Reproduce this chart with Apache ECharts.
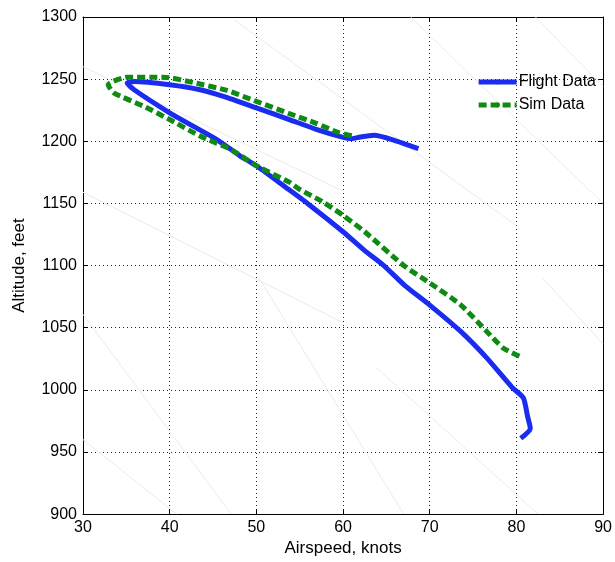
<!DOCTYPE html>
<html>
<head>
<meta charset="utf-8">
<script src="https://cdn.jsdelivr.net/npm/echarts@6/dist/echarts.min.js"></script>
<style>
html, body { margin: 0; padding: 0; background: #fff; }
#chart { width: 615px; height: 562px; }
</style>
</head>
<body>
<div id="chart"></div>
<script>
// flight data trace (airspeed knots, altitude feet)
const flightSpeed = [68.7, 65.9, 63.6, 62.0, 61.0, 59.7, 56.9, 53.8, 50.0, 46.2, 43.5, 40.0, 35.9, 35.1, 35.9, 40.0, 42.7, 45.4, 48.1, 50.0, 53.1, 55.9, 60.0, 62.5, 64.7, 67.1, 70.0, 73.6, 76.6, 79.5, 80.8, 81.3, 81.6, 80.5]
const flightAlt = [1194.1, 1200.8, 1204.8, 1203.5, 1202.1, 1203.8, 1209.6, 1217.5, 1226.9, 1236.1, 1241.5, 1245.5, 1248.1, 1246.8, 1241.5, 1222.9, 1212.2, 1201.6, 1188.3, 1180.3, 1164.4, 1150, 1127.2, 1112, 1100, 1084.1, 1068.2, 1046.8, 1025.5, 1002, 993.5, 978.2, 968.9, 960.9]

// sim data trace
const simSpeed = [61.0, 59.5, 56.9, 53.8, 50.0, 46.6, 42.7, 39.3, 35.1, 32.9, 33.6, 37.0, 40.0, 43.5, 47.0, 50.0, 53.8, 54.9, 57.7, 60.0, 62.5, 67.0, 70.0, 73.6, 76.6, 78.5, 80.5]
const simAlt = [1204.4, 1207, 1214.4, 1222.3, 1232.1, 1240.9, 1247.3, 1251.6, 1251.6, 1245.5, 1238.8, 1228.2, 1217.5, 1204.2, 1193.6, 1180.3, 1167.1, 1161.7, 1151.1, 1140.4, 1127.2, 1100, 1086, 1068.2, 1046.8, 1033.5, 1026.5]

// faint background energy lines: [x0, y0, x1, y1]
const bgLines = [
    [30, 1260, 60, 1160],
    [30, 1159, 60, 1054],
    [30, 1060.7, 47.1, 900],
    [30, 960, 40.8, 900],
    [47.4, 1298, 80, 1132],
    [50.3, 1090, 67, 900],
    [63.8, 1018, 82.5, 900],
    [67.8, 1300, 90, 1150],
    [82.2, 1300, 90, 1244],
    [83, 1090, 90, 1037]
]

const xTicks = [30, 90, 10]
const yTicks = [900, 1300, 50]

const chartRef = document.getElementById('chart')
const chartInstance = echarts.init(chartRef)

const toPairs = (xs, ys) => xs.map((x, i) => [x, ys[i]])

const font = 'Liberation Sans, Arial, sans-serif'

const bgSeries = bgLines.map(l => ({
    type: 'line',
    data: [[l[0], l[1]], [l[2], l[3]]],
    symbol: 'none',
    silent: true,
    lineStyle: { color: '#ebebeb', width: 1 },
    z: 1
}))

const axisCommon = {
    type: 'value',
    axisLine: { show: true, onZero: false, lineStyle: { color: '#000', width: 1 } },
    axisTick: { show: true, inside: true, length: 5, lineStyle: { color: '#000' } }
}

const gridDots = { show: true, lineStyle: { color: '#222', type: [1, 3], width: 1 } }

const chartOption = {
    animation: false,
    backgroundColor: '#fff',
    grid: { left: 83, right: 9, top: 17, bottom: 44 },
    legend: {
        right: 14,
        top: 69,
        orient: 'vertical',
        itemWidth: 38,
        itemHeight: 6,
        itemGap: 7,
        data: [
            { name: 'Flight Data', lineStyle: { width: 5 } },
            { name: 'Sim Data', lineStyle: { width: 5, type: [8, 4] } }
        ],
        textStyle: { fontFamily: font, fontSize: 16, color: '#000', padding: [0, 0, 0, -3] }
    },
    xAxis: [{
        ...axisCommon,
        position: 'bottom',
        min: xTicks[0], max: xTicks[1], interval: xTicks[2],
        name: 'Airspeed, knots',
        nameLocation: 'middle',
        nameGap: 25,
        nameTextStyle: { fontFamily: font, fontSize: 17, color: '#000' },
        axisLabel: { fontFamily: font, fontSize: 16, color: '#000', margin: 5 },
        splitLine: gridDots
    }, {
        ...axisCommon,
        position: 'top',
        min: xTicks[0], max: xTicks[1], interval: xTicks[2],
        axisLabel: { show: false },
        splitLine: { show: false }
    }],
    yAxis: [{
        ...axisCommon,
        position: 'left',
        min: yTicks[0], max: yTicks[1], interval: yTicks[2],
        name: 'Altitude, feet',
        nameLocation: 'middle',
        nameGap: 55,
        nameTextStyle: { fontFamily: font, fontSize: 17, color: '#000' },
        axisLabel: { fontFamily: font, fontSize: 16, color: '#000', margin: 6, formatter: v => String(v) },
        splitLine: gridDots
    }, {
        ...axisCommon,
        position: 'right',
        min: yTicks[0], max: yTicks[1], interval: yTicks[2],
        axisLabel: { show: false },
        splitLine: { show: false }
    }],
    series: [
        ...bgSeries,
        {
            name: 'Flight Data',
            type: 'line',
            data: toPairs(flightSpeed, flightAlt),
            symbol: 'none',
            smooth: 0.2,
            color: '#1a2cf0',
            lineStyle: { color: '#1a2cf0', width: 5 },
            z: 3
        },
        {
            name: 'Sim Data',
            type: 'line',
            data: toPairs(simSpeed, simAlt),
            symbol: 'none',
            smooth: 0.2,
            color: '#0f8a12',
            lineStyle: { color: '#0f8a12', width: 5, type: [8, 4] },
            z: 4
        }
    ]
}
chartInstance.setOption(chartOption)
</script>
</body>
</html>
